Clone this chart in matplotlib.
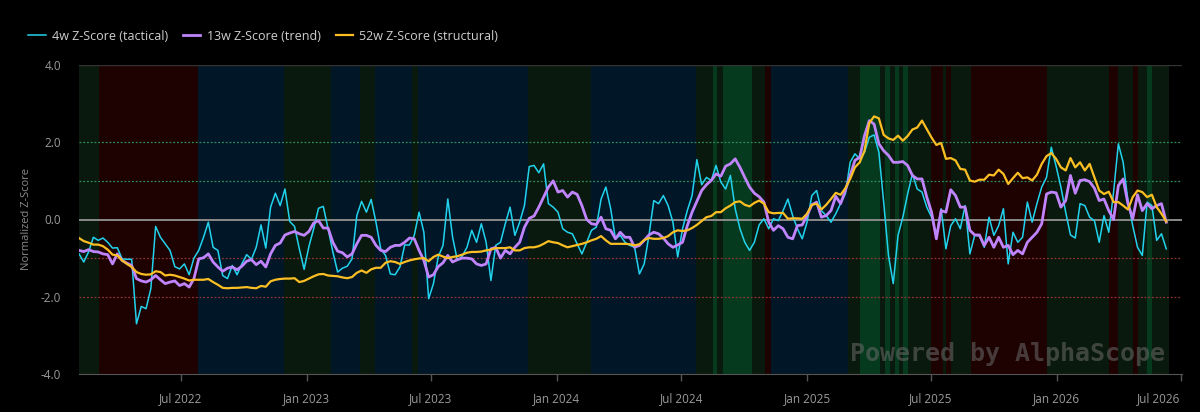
import matplotlib
matplotlib.use('Agg')
import matplotlib.pyplot as plt
import matplotlib.dates as mdates
import numpy as np
import pandas as pd

# weekly series, first point on 2022-02-02
start = pd.Timestamp('2022-02-02')

z4 = [
    -0.89, -1.10, -0.84, -0.46, -0.54, -0.48, -0.59, -0.74, -0.73, -1.02, -1.03, -1.03, -2.70, -2.25, -2.31, -1.79,
    -0.18, -0.46, -0.63, -0.80, -1.22, -1.28, -1.15, -1.43, -1.00, -0.80, -0.46, -0.07, -0.72, -0.80, -1.45, -1.53, -1.19,
    -1.43, -1.15, -0.91, -1.03, -0.72, -0.14, -0.74, 0.32, 0.68, 0.36, 0.79, -0.05, -0.18, -0.76, -1.29, -0.70,
    -0.24, 0.29, 0.34, -0.24, -0.84, -1.36, -1.26, -1.21, -1.02, 0.10, 0.47, 0.19, 0.52, -0.07, -0.76, -0.93, -1.41,
    -1.43, -1.23, -0.66, -0.66, -0.41, 0.19, -0.33, -2.05, -1.66, -0.97, -0.67, 0.53, -0.46, -1.06, -0.95, -0.72,
    -0.28, -0.59, -0.11, -0.59, -1.58, -0.67, -0.59, -0.11, 0.32, -0.41, -0.07, 0.36, 1.37, 1.40, 1.21, 1.44, 0.41,
    0.32, 0.19, -0.24, -0.33, -0.37, -0.63, -0.89, -0.59, -0.28, -0.20, 0.53, 0.84, 0.28, -0.50, -0.41, -0.59,
    -0.67, -0.72, -1.41, -1.15, -0.41, 0.49, 0.41, 0.62, 0.36, -0.07, -0.97, -0.24, 0.23, 0.62, 1.55, 0.90, 1.09,
    1.01, 1.40, 0.97, 0.79, 1.14, 0.28, -0.24, -0.59, -0.80, -0.59, -0.14, 0.02, -0.24, 0.02, -0.03, 0.23,
    0.53, 0.10, -0.24, -0.50, -0.07, 0.62, 0.75, 0.23, 0.10, -0.07, 0.15, 0.41, 0.66, 1.48, 1.70, 1.57, 1.74,
    2.13, 2.19, 1.74, 0.45, -0.93, -1.66, -0.41, 0.06, 0.66, 1.18, 0.79, 0.71, 0.32, 0.06, -0.41, 0.28,
    -0.76, -0.16, 0.02, -0.24, 0.36, -0.89, -0.41, -0.43, -0.72, 0.06, -0.41, -0.16, 0.28, -1.15, -0.33, -0.59, -0.46,
    0.45, -0.07, 0.41, 0.84, 1.09, 1.87, 1.38, 0.84, 0.19, -0.40, -0.48, 0.41, 0.36, 0.06, -0.03,
    -0.59, 0.10, -0.33, 0.71, 1.96, 1.48, 0.49, -0.16, -0.72, -0.93, 0.45, 0.36, -0.54, -0.37, -0.76,
]

z13 = [
    -0.80, -0.83, -0.78, -0.83, -0.84, -0.89, -0.91, -1.15, -0.89, -1.06, -1.13, -1.19, -1.53, -1.59, -1.62, -1.56,
    -1.45, -1.56, -1.66, -1.62, -1.59, -1.71, -1.66, -1.75, -1.53, -1.02, -0.99, -0.89, -1.10, -1.23, -1.34, -1.26, -1.23,
    -1.30, -1.21, -1.08, -1.04, -1.17, -1.08, -1.23, -0.89, -0.67, -0.61, -0.40, -0.35, -0.31, -0.37, -0.41, -0.31,
    -0.09, -0.03, -0.22, -0.22, -0.59, -0.82, -0.86, -0.97, -0.89, -0.63, -0.41, -0.41, -0.46, -0.67, -0.80, -0.83, -0.72,
    -0.67, -0.67, -0.59, -0.48, -0.50, -0.80, -1.06, -1.49, -1.43, -1.22, -1.12, -0.93, -1.10, -1.04, -1.00, -1.00,
    -1.02, -1.15, -1.19, -1.15, -0.76, -0.72, -1.00, -0.80, -0.89, -0.72, -0.59, -0.20, 0.03, 0.09, 0.32, 0.58, 0.84,
    1.00, 0.71, 0.75, 0.58, 0.71, 0.65, 0.36, 0.00, -0.11, -0.13, 0.06, -0.24, -0.28, -0.50, -0.33, -0.46,
    -0.46, -0.72, -0.67, -0.54, -0.40, -0.33, -0.37, -0.48, -0.63, -0.72, -0.66, -0.59, -0.16, 0.19, 0.47, 0.75, 0.90,
    1.01, 1.18, 1.12, 1.38, 1.44, 1.57, 1.35, 1.09, 0.84, 0.68, 0.59, 0.45, -0.07, -0.28, -0.16, -0.24,
    -0.46, -0.50, -0.16, -0.14, 0.10, 0.38, 0.45, 0.06, 0.10, 0.23, 0.60, 0.41, 0.75, 1.14, 1.53, 1.61, 2.17,
    2.56, 2.47, 1.96, 1.78, 1.66, 1.48, 1.48, 1.50, 1.40, 1.14, 1.05, 1.05, 0.58, 0.19, -0.50, 0.23,
    0.19, 0.77, 0.62, 0.32, 0.32, -0.28, -0.40, -0.40, -0.67, -0.46, -0.72, -0.46, -0.72, -0.67, -0.91, -0.80, -0.89,
    -0.59, -0.46, -0.33, -0.11, 0.66, 0.71, 0.69, 0.32, 0.49, 1.14, 0.68, 1.01, 1.03, 0.98, 0.81,
    0.49, 0.53, 0.23, 0.00, 0.88, 1.05, 0.41, 0.02, 0.64, 0.23, 0.41, 0.28, 0.36, 0.41, -0.07,
]

z52 = [
    -0.48, -0.56, -0.60, -0.65, -0.65, -0.69, -0.78, -0.91, -0.93, -1.06, -1.15, -1.23, -1.36, -1.41, -1.43, -1.42,
    -1.34, -1.36, -1.45, -1.43, -1.45, -1.49, -1.53, -1.58, -1.56, -1.56, -1.56, -1.54, -1.62, -1.69, -1.77, -1.78, -1.77,
    -1.77, -1.76, -1.75, -1.77, -1.78, -1.72, -1.74, -1.60, -1.56, -1.54, -1.53, -1.53, -1.52, -1.62, -1.59, -1.53,
    -1.47, -1.42, -1.41, -1.45, -1.46, -1.47, -1.50, -1.52, -1.49, -1.38, -1.32, -1.38, -1.29, -1.25, -1.25, -1.12, -1.08,
    -1.10, -1.15, -1.10, -1.06, -1.03, -1.01, -1.00, -1.08, -0.97, -0.91, -0.96, -1.00, -0.97, -0.95, -0.91, -0.86,
    -0.84, -0.84, -0.83, -0.80, -0.78, -0.74, -0.74, -0.74, -0.72, -0.80, -0.80, -0.74, -0.72, -0.72, -0.69, -0.63, -0.56,
    -0.59, -0.61, -0.67, -0.72, -0.69, -0.66, -0.63, -0.59, -0.54, -0.50, -0.43, -0.54, -0.63, -0.63, -0.63, -0.63,
    -0.64, -0.67, -0.64, -0.53, -0.48, -0.50, -0.50, -0.48, -0.43, -0.33, -0.28, -0.30, -0.28, -0.22, -0.14, -0.04, 0.06,
    0.09, 0.19, 0.19, 0.29, 0.36, 0.45, 0.47, 0.38, 0.34, 0.43, 0.49, 0.41, 0.19, 0.16, 0.17, 0.17,
    0.02, 0.03, 0.03, 0.02, 0.15, 0.38, 0.41, 0.26, 0.38, 0.53, 0.69, 0.64, 0.81, 1.05, 1.35, 1.48, 1.78,
    2.50, 2.67, 2.62, 2.19, 2.10, 2.06, 2.17, 2.04, 2.16, 2.33, 2.38, 2.56, 2.34, 2.12, 1.93, 1.98,
    1.57, 1.59, 1.53, 1.31, 1.29, 1.01, 0.98, 1.03, 1.03, 1.16, 1.14, 1.29, 1.18, 0.92, 1.07, 1.21, 1.07,
    1.09, 1.01, 1.16, 1.44, 1.64, 1.72, 1.57, 1.35, 1.27, 1.59, 1.35, 1.48, 1.27, 1.44, 1.09,
    0.75, 0.66, 0.72, 0.45, 0.45, 0.36, 0.26, 0.58, 0.75, 0.71, 0.58, 0.64, 0.32, 0.15, -0.05,
]

# regime bands: (start week, end week, regime)
regimes = [
    (0, 4.2, 'neutral'), (4.2, 24.8, 'bear'), (24.8, 42.9, 'cool'), (42.9, 52.7, 'neutral'),
    (52.7, 58.7, 'cool'), (58.7, 61.9, 'neutral'), (61.9, 69.6, 'cool'), (69.6, 70.8, 'neutral'),
    (70.8, 93.8, 'cool'), (93.8, 107, 'neutral'), (107, 128.8, 'cool'), (128.8, 132.3, 'neutral'),
    (132.3, 133.3, 'bull'), (133.3, 134.4, 'neutral'), (134.4, 140.6, 'bull'), (140.6, 143.3, 'neutral'),
    (143.3, 144.4, 'bear'), (144.4, 160.6, 'cool'), (160.6, 163.1, 'neutral'), (163.1, 167.3, 'bull'),
    (167.3, 168.3, 'neutral'), (168.3, 169.4, 'bull'), (169.4, 170.4, 'neutral'), (170.4, 171.3, 'bull'),
    (171.3, 172.1, 'neutral'), (172.1, 173.1, 'bull'), (173.1, 177.9, 'neutral'), (177.9, 180.4, 'bear'),
    (180.4, 181.0, 'neutral'), (181.0, 182.1, 'bear'), (182.1, 186.3, 'neutral'), (186.3, 202.1, 'bear'),
    (202.1, 215.0, 'neutral'), (215.0, 216.9, 'bear'), (216.9, 220.0, 'neutral'), (220.0, 221.1, 'bear'),
    (221.1, 223.0, 'neutral'), (223.0, 224.0, 'bull'), (224.0, 227.5, 'neutral'),
]
regime_colors = {'neutral': '#0a190d', 'bear': '#1e0101', 'cool': '#011627', 'bull': '#053a1f'}

labels = ['4w Z-Score (tactical)', '13w Z-Score (trend)', '52w Z-Score (structural)']
colors = ['#22d3ee', '#c084fc', '#fbbf24']
widths = [1.1, 2.0, 1.6]


def week_to_date(w):
    return start + pd.Timedelta(days=7 * w)


plt.rcParams['font.family'] = ['Open Sans', 'DejaVu Sans']

fig = plt.figure(figsize=(12, 4.12), dpi=100, facecolor='black')
ax = fig.add_axes([79 / 1200, 1 - 374 / 412, (1182 - 79) / 1200, (374 - 65) / 412])
ax.set_facecolor('black')

for s, e, r in regimes:
    ax.axvspan(week_to_date(s), week_to_date(e), color=regime_colors[r], lw=0, zorder=0)

ax.axhline(0, color='#8a8a8a', lw=1.4, zorder=2)
for lvl in (2, 1):
    ax.axhline(lvl, color='#2f8f5a', lw=0.9, ls=(0, (1.5, 1.5)), zorder=1)
for lvl in (-1, -2):
    ax.axhline(lvl, color='#8f3535', lw=0.9, ls=(0, (1.5, 1.5)), zorder=1)
ax.axhline(4, color='#333333', lw=1, zorder=1)

for vals, lab, c, w in zip([z4, z13, z52], labels, colors, widths):
    d = [week_to_date(i) for i in range(len(vals))]
    ax.plot(d, vals, color=c, lw=w, label=lab, zorder=3)

ax.set_ylim(-4, 4)
ax.set_xlim(pd.Timestamp('2022-02-02'), pd.Timestamp('2026-07-03'))
ax.set_yticks([-4, -2, 0, 2, 4])
ax.set_yticklabels(['-4.0', '-2.0', '0.0', '2.0', '4.0'])
ax.xaxis.set_major_locator(mdates.MonthLocator(bymonth=[1, 7]))
ax.xaxis.set_major_formatter(mdates.DateFormatter('%b %Y'))

ax.tick_params(axis='y', length=0, pad=13, colors='#9a9a9a', labelsize=8.5)
ax.tick_params(axis='x', length=5, width=1, color='#555555', pad=8, labelcolor='#9a9a9a', labelsize=8.5)
for side in ('top', 'right', 'left'):
    ax.spines[side].set_visible(False)
ax.spines['bottom'].set_color('#555555')

fig.canvas.draw()
xt = ax.get_xticklabels()
if xt:
    xt[-1].set_horizontalalignment('right')

ax.set_ylabel('Normalized Z-Score', color='#8a8a8a', fontsize=8)
ax.yaxis.set_label_coords(-0.043, 0.5)

ax.text(0.985, 0.065, 'Powered by AlphaScope', transform=ax.transAxes, ha='right', va='center',
        family='DejaVu Sans Mono', fontweight='bold', fontsize=18, color='#6a6a6a', alpha=0.55, zorder=4)

fig.legend(loc='center left', bbox_to_anchor=(0.014, 1 - 36 / 412), ncol=3, frameon=False,
           handlelength=1.4, handletextpad=0.5, columnspacing=1.2, labelcolor='#cfcfcf', fontsize=9)

plt.savefig('out.png', dpi=100, facecolor='black')
